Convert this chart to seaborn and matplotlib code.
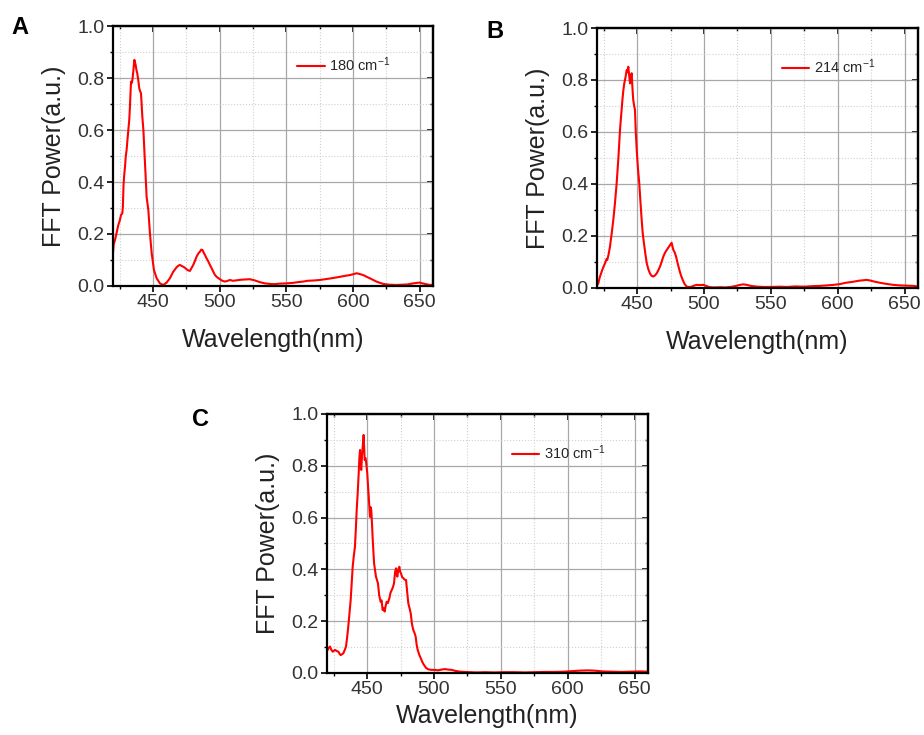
"""Three-panel FFT power spectra (A: 180, B: 214, C: 310 cm-1)."""

import matplotlib
matplotlib.use("Agg")
import matplotlib.pyplot as plt
import pandas as pd
import seaborn as sns
from matplotlib.ticker import MultipleLocator

# ---- data ------------------------------------------------------------------
wl_a = [
    420, 420.5, 421.5, 422.5, 424, 425, 426, 427, 427.4, 427.9,
    428.3, 429, 429.6, 430.2, 430.8, 431.5, 432.2, 432.7, 433.2, 433.5,
    434, 434.5, 435.2, 436, 436.5, 437, 437.6, 438.2, 439, 439.7,
    440.3, 441, 442, 442.8, 443.5, 444.4, 445.2, 446.5, 447.7, 449,
    450.7, 452.7, 455.2, 457.7, 460.2, 462.7, 465.2, 467.7, 469, 470.2,
    471.5, 472.7, 474, 475.2, 476.5, 477.7, 479, 480.2, 481.5, 482.7,
    484, 485.2, 486.2, 487.2, 488, 489, 490, 491.5, 493, 494,
    495.5, 496.5, 498, 500.2, 502, 504, 506, 507.7, 510, 513,
    516, 519, 522.7, 526, 530, 534, 537.7, 541, 545, 550,
    555, 559, 562.7, 566, 570, 575, 579, 583, 587.7, 591,
    594, 597.7, 600, 602.7, 605, 607.7, 610, 612.5, 615.2, 618,
    622.7, 627, 632.7, 637, 641, 645, 648, 650, 653, 657.7,
    660,
]
power_a = [
    0.127, 0.16, 0.177, 0.2, 0.235, 0.25, 0.273, 0.28, 0.305, 0.39,
    0.42, 0.459, 0.50, 0.523, 0.56, 0.6, 0.64, 0.69, 0.75, 0.786,
    0.78, 0.79, 0.824, 0.87, 0.86, 0.85, 0.83, 0.818, 0.79, 0.76,
    0.75, 0.741, 0.651, 0.6, 0.523, 0.43, 0.343, 0.292, 0.203, 0.126,
    0.062, 0.03, 0.01, 0.004, 0.013, 0.03, 0.055, 0.072, 0.078, 0.081,
    0.077, 0.074, 0.07, 0.064, 0.06, 0.058, 0.07, 0.081, 0.097, 0.113,
    0.125, 0.132, 0.14, 0.138, 0.128, 0.119, 0.108, 0.094, 0.078, 0.068,
    0.052, 0.042, 0.034, 0.026, 0.02, 0.017, 0.02, 0.023, 0.02, 0.022,
    0.024, 0.025, 0.026, 0.022, 0.015, 0.01, 0.008, 0.007, 0.009, 0.01,
    0.012, 0.015, 0.017, 0.02, 0.021, 0.023, 0.026, 0.029, 0.033, 0.036,
    0.039, 0.042, 0.045, 0.049, 0.046, 0.042, 0.036, 0.03, 0.023, 0.016,
    0.008, 0.005, 0.004, 0.005, 0.006, 0.01, 0.012, 0.013, 0.009, 0.004,
    0.005,
]

wl_b = [
    420, 421, 422, 423.5, 424.7, 426, 427, 427.7, 428.7, 429.7,
    431, 432.2, 433.5, 434.7, 436, 437.2, 438, 439, 439.7, 440.4,
    441.3, 442.2, 442.8, 443.4, 444, 444.7, 445.3, 445.9, 446.5, 447.1,
    447.8, 448.4, 449, 449.7, 450.6, 451.6, 452.5, 453.4, 454.2, 455.1,
    456.2, 457.2, 458.4, 459.6, 460.8, 462.1, 463.3, 464.6, 465.8, 467.1,
    468.3, 469.6, 470.8, 472.1, 473.3, 474.6, 475.8, 476.4, 477.1, 478,
    479.1, 480.3, 481.6, 482.8, 484.1, 485.5, 487.1, 489, 490.8, 492.5,
    494.5, 497, 499.5, 502, 504.5, 508, 512, 516, 520, 524,
    527, 529.4, 532, 535, 540, 545, 550, 556.8, 562, 568,
    575, 581, 586.7, 592, 597, 601.7, 606, 611.6, 616, 621.6,
    624, 627, 631.6, 636, 641.5, 646, 651, 656.5, 660,
]
power_b = [
    0.01, 0.018, 0.04, 0.063, 0.08, 0.095, 0.11, 0.108, 0.13, 0.159,
    0.21, 0.262, 0.33, 0.403, 0.5, 0.608, 0.66, 0.723, 0.76, 0.787,
    0.81, 0.838, 0.83, 0.851, 0.82, 0.787, 0.81, 0.826, 0.77, 0.723,
    0.70, 0.685, 0.6, 0.531, 0.46, 0.403, 0.33, 0.262, 0.21, 0.172,
    0.13, 0.095, 0.072, 0.056, 0.047, 0.044, 0.048, 0.056, 0.068, 0.082,
    0.1, 0.121, 0.135, 0.146, 0.155, 0.165, 0.174, 0.16, 0.146, 0.138,
    0.121, 0.095, 0.069, 0.048, 0.031, 0.015, 0.005, 0.004, 0.005, 0.009,
    0.012, 0.011, 0.012, 0.007, 0.003, 0.002, 0.003, 0.002, 0.004, 0.008,
    0.012, 0.014, 0.012, 0.008, 0.005, 0.004, 0.004, 0.005, 0.004, 0.006,
    0.005, 0.007, 0.008, 0.01, 0.012, 0.015, 0.02, 0.024, 0.028, 0.031,
    0.029, 0.025, 0.02, 0.016, 0.012, 0.01, 0.009, 0.008, 0.006,
]

wl_c = [
    420, 420.5, 421, 422.2, 423.2, 424.3, 425.2, 426, 427.2, 428.5,
    429.4, 430.2, 431.2, 432.2, 433.2, 434.2, 435, 435.9, 436.8, 437.7,
    438.5, 439.2, 440, 440.9, 441.6, 442.2, 443, 443.7, 444.2, 444.7,
    445.2, 445.6, 446.2, 446.7, 447.4, 447.8, 448.2, 448.7, 449.2, 450.1,
    450.7, 451.2, 452.1, 452.6, 453.1, 453.7, 454.2, 455.2, 456.6, 457.3,
    458.1, 459, 460.1, 460.8, 461.6, 462.3, 463.1, 463.9, 464.6, 465.5,
    466.6, 467.5, 468.4, 469.2, 470.1, 470.9, 471.6, 472.1, 472.6, 473.3,
    474.1, 474.7, 475.3, 476.2, 477.1, 478.1, 479.1, 480, 480.8, 481.7,
    482.6, 483.5, 484.5, 485.4, 486.3, 487, 487.8, 489, 490.1, 491.3,
    492.5, 494, 495.7, 498, 500.7, 503, 505.5, 508.2, 510.5, 513.2,
    516, 519.4, 523, 526.9, 532, 538, 545, 552, 560, 568,
    575, 582, 590, 597, 603, 609, 615, 620, 626, 633,
    640, 647, 654, 660,
]
power_c = [
    0.1, 0.089, 0.095, 0.102, 0.09, 0.082, 0.086, 0.089, 0.085, 0.082,
    0.074, 0.069, 0.072, 0.076, 0.088, 0.102, 0.135, 0.179, 0.23, 0.282,
    0.35, 0.41, 0.45, 0.488, 0.56, 0.629, 0.70, 0.771, 0.83, 0.861,
    0.8, 0.784, 0.84, 0.874, 0.919, 0.87, 0.822, 0.83, 0.816, 0.771,
    0.72, 0.681, 0.603, 0.64, 0.629, 0.57, 0.514, 0.423, 0.372, 0.36,
    0.346, 0.3, 0.275, 0.28, 0.243, 0.25, 0.237, 0.26, 0.275, 0.27,
    0.288, 0.31, 0.32, 0.33, 0.346, 0.39, 0.404, 0.38, 0.372, 0.4,
    0.41, 0.39, 0.385, 0.37, 0.366, 0.36, 0.359, 0.31, 0.269, 0.25,
    0.23, 0.19, 0.166, 0.155, 0.14, 0.11, 0.089, 0.07, 0.057, 0.042,
    0.031, 0.02, 0.014, 0.012, 0.012, 0.01, 0.013, 0.015, 0.013, 0.012,
    0.008, 0.005, 0.004, 0.003, 0.002, 0.003, 0.002, 0.003, 0.003, 0.002,
    0.003, 0.004, 0.004, 0.005, 0.007, 0.009, 0.01, 0.009, 0.006, 0.005,
    0.004, 0.005, 0.006, 0.005,
]

panel_letters = ["A", "B", "C"]
legend_labels = ["180 cm$^{-1}$", "214 cm$^{-1}$", "310 cm$^{-1}$"]

# ---- styling ----------------------------------------------------------------
sns.set_style("white")
plt.rcParams["font.family"] = ["Liberation Sans", "DejaVu Sans"]
plt.rcParams["mathtext.default"] = "regular"

fig = plt.figure(figsize=(9.24, 7.35), dpi=100)

# axes rectangles in figure fractions (left, bottom, width, height)
rects = [
    (0.1223, 0.6109, 0.3463, 0.3537),
    (0.6461, 0.6082, 0.3474, 0.3537),
    (0.3539, 0.0844, 0.3474, 0.3524),
]
letter_pos = [(0.012, 0.978), (0.526, 0.973), (0.208, 0.445)]
xlabel_pads = [12, 12, 4]

series = [(wl_a, power_a), (wl_b, power_b), (wl_c, power_c)]

for i, ((wl, pw), rect) in enumerate(zip(series, rects)):
    ax = fig.add_axes(rect)
    frame = pd.DataFrame({"wavelength": wl, "power": pw})
    sns.lineplot(
        data=frame, x="wavelength", y="power", ax=ax, color="#ff0000",
        linewidth=1.5, estimator=None, sort=False, label=legend_labels[i],
    )
    ax.set_xlim(420, 660)
    ax.set_ylim(0, 1.0)
    ax.xaxis.set_major_locator(MultipleLocator(50))
    ax.xaxis.set_minor_locator(MultipleLocator(25))
    ax.yaxis.set_major_locator(MultipleLocator(0.2))
    ax.yaxis.set_minor_locator(MultipleLocator(0.1))
    ax.yaxis.set_major_formatter(plt.FormatStrFormatter("%.1f"))

    ax.grid(which="major", color="#a8a8a8", linewidth=0.9, linestyle="-")
    ax.grid(which="minor", color="#d0d0d0", linewidth=0.8, linestyle=":")
    ax.set_axisbelow(True)

    for spine in ax.spines.values():
        spine.set_visible(True)
        spine.set_color("black")
        spine.set_linewidth(1.6)

    ax.tick_params(which="both", direction="out", color="black",
                   labelsize=14, labelcolor="#333333", pad=2,
                   left=True, bottom=True)
    ax.tick_params(which="major", length=4, width=1.2)
    ax.tick_params(which="minor", length=2.5, width=1.0)

    # inward ticks on top and right, as in the original export
    top = ax.secondary_xaxis("top")
    right = ax.secondary_yaxis("right")
    for sec, axis in ((top, top.xaxis), (right, right.yaxis)):
        if sec is top:
            axis.set_major_locator(MultipleLocator(50))
            axis.set_minor_locator(MultipleLocator(25))
        else:
            axis.set_major_locator(MultipleLocator(0.2))
            axis.set_minor_locator(MultipleLocator(0.1))
        sec.tick_params(which="both", direction="in", color="black",
                        labeltop=False, labelright=False)
        sec.tick_params(which="major", length=4, width=1.2)
        sec.tick_params(which="minor", length=2.5, width=1.0)
        for spine in sec.spines.values():
            spine.set_linewidth(1.6)

    ax.set_xlabel("Wavelength(nm)", fontsize=18, color="#222222",
                  labelpad=xlabel_pads[i])
    ax.set_ylabel("FFT Power(a.u.)", fontsize=18, color="#222222",
                  labelpad=8)

    ax.legend(loc="center left", bbox_to_anchor=(0.575, 0.85),
              frameon=False, fontsize=10.5, handlelength=1.9,
              handletextpad=0.3, borderpad=0, borderaxespad=0)

    fig.text(letter_pos[i][0], letter_pos[i][1], panel_letters[i],
             fontsize=17, fontweight="bold", va="top", ha="left",
             color="black")

fig.savefig("out.png", dpi=100)
plt.close(fig)
